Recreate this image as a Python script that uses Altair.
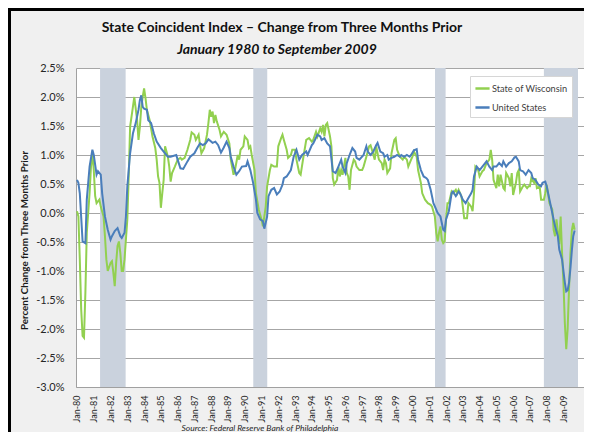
import altair as alt
import pandas as pd

# months since Jan-1980 and three-month % change
us_month = [0, 1, 2, 4, 6, 7, 9, 11, 12, 14, 15, 17, 18, 20, 22, 24, 25, 27, 29, 31, 32, 34, 35, 36, 38,
            40, 42, 44, 45, 46, 47, 48, 50, 51, 53, 55, 57, 60, 63, 65, 67, 71, 72, 74, 76, 79, 81, 84, 86, 88,
            90, 92, 94, 97, 99, 101, 103, 105, 107, 109, 110, 112, 114, 116, 118, 121, 122, 124, 126, 128, 129,
            131, 133, 134, 136, 137, 139, 141, 143, 145, 147, 148, 150, 153, 155, 157, 159, 161, 164, 165, 168,
            169, 172, 174, 175, 177, 179, 181, 183, 185, 187, 189, 190, 192, 193, 195, 197, 199, 200, 202, 205,
            207, 208, 210, 212, 214, 215, 217, 219, 220, 222, 223, 225, 227, 229, 231, 232, 234, 236, 238, 239,
            241, 243, 244, 246, 248, 250, 251, 253, 255, 257, 258, 260, 262, 263, 264, 266, 268, 269, 271, 273,
            274, 276, 278, 280, 282, 283, 284, 286, 288, 289, 291, 293, 295, 297, 298, 300, 302, 304, 305, 307,
            309, 311, 313, 314, 316, 317, 319, 321, 323, 325, 326, 328, 330, 332, 333, 335, 336, 338, 340, 342,
            344, 345, 347, 348, 349, 350, 351, 352, 353, 354, 355, 356]
us_value = [0.57, 0.52, 0.34, -0.49, -0.52, 0.23, 0.80, 1.09, 1.00, 0.66, 0.72, 0.66, 0.34, -0.06, -0.29, -0.46,
            -0.40, -0.31, -0.26, -0.40, -0.43, -0.34, -0.06, 0.46, 1.03,
            1.37, 1.55, 1.78, 1.95, 2.03, 1.83, 1.80, 1.78, 1.60, 1.55, 1.37, 1.23, 1.12, 1.03, 0.97, 0.97, 1.00,
            0.92, 0.77, 0.76, 0.89, 0.97, 1.03, 1.12, 1.20,
            1.17, 1.20, 1.27, 1.21, 1.23, 1.17, 1.04, 1.13, 1.23, 1.12, 0.97, 0.80, 0.66, 0.72, 0.80, 0.81, 0.89,
            0.74, 0.52, 0.23, 0.00,
            -0.11, -0.14, -0.27, -0.06, 0.29, 0.40, 0.43, 0.32, 0.37, 0.49, 0.60, 0.63, 0.74, 0.97, 1.09, 0.92,
            1.00, 1.06, 1.00, 1.17,
            1.20, 1.35, 1.32, 1.26, 1.29, 1.20, 1.15, 0.72, 0.69, 0.80, 0.92, 0.80, 0.69, 0.86, 1.00, 1.12, 1.06,
            0.95, 0.92, 1.00,
            1.15, 1.06, 1.00, 1.06, 1.17, 1.21, 1.06, 1.03, 0.97, 1.00, 0.92, 0.95, 0.97, 1.00, 0.97, 1.00, 0.97,
            1.00, 0.97, 1.00,
            1.08, 1.10, 0.92, 0.74, 0.63, 0.60, 0.57, 0.40, 0.17, 0.06, 0.00, -0.06, -0.29, -0.31, -0.11, 0.03,
            0.34, 0.37, 0.29, 0.37,
            0.34, 0.23, 0.17, 0.26, 0.34, 0.40, 0.63, 0.80, 0.74, 0.77, 0.83, 0.89, 0.80, 0.74, 0.80, 0.80, 0.86,
            0.81, 0.89, 0.80,
            0.86, 0.89, 0.96, 0.97, 0.89, 0.74, 0.72, 0.66, 0.74, 0.69, 0.60, 0.57, 0.49, 0.46, 0.52, 0.54, 0.46,
            0.23, 0.00, -0.23,
            -0.40, -0.63, -0.80, -1.00, -1.20, -1.35, -1.33, -1.20, -0.95, -0.65, -0.40, -0.30]

wi_month = [0, 1, 2, 3, 4, 5, 6, 7, 9, 10, 11, 12, 13, 14, 16, 17, 19, 20, 21, 22, 24, 25, 26, 27, 28, 29, 30,
            31, 32, 33, 34, 36, 37, 38, 40, 41, 43, 44, 45, 46, 47, 48, 49, 50, 52, 54, 56, 57, 58, 59, 60, 61,
            62, 63, 65, 66, 67, 68, 70, 72, 74, 75, 77, 79, 81, 82, 84, 85, 87, 88, 89, 91, 93, 94, 95, 96, 97,
            98, 99, 100, 102, 103, 105, 107, 109, 110, 112, 113, 115, 116, 117, 119, 120, 122, 123, 124, 125,
            127, 128, 130, 132, 133, 135, 136, 138, 139, 141, 143, 144, 146, 147, 148, 150, 151, 153, 154, 156,
            157, 159, 160, 162, 164, 166, 168, 169, 171, 172, 174, 175, 176, 177, 178, 179, 181, 182, 183, 184,
            186, 187, 188, 189, 190, 192, 193, 194, 195, 196, 198, 199, 200, 202, 204, 205, 207, 209, 210, 211,
            213, 214, 215, 216, 218, 219, 220, 221, 222, 224, 225, 227, 228, 229, 230, 231, 233, 234, 236, 237,
            239, 240, 241, 243, 244, 246, 247, 249, 251, 253, 254, 256, 257, 258, 259, 260, 261, 262, 263, 264,
            265, 266, 268, 269, 271, 272, 273, 275, 276, 277, 279, 280, 282, 283, 284, 285, 287, 288, 290, 291,
            293, 295, 296, 297, 298, 300, 301, 302, 303, 305, 306, 307, 309, 310, 311, 312, 314, 315, 316, 317,
            319, 320, 322, 323, 324, 325, 327, 328, 329, 331, 332, 334, 335, 336, 338, 340, 341, 342, 343, 345,
            346, 347, 348, 349, 350, 351, 352, 353, 354, 355, 356]
wi_value = [0.03, -0.06, -0.80, -1.66, -2.12, -2.15, -1.37, -0.34, 0.34, 0.80, 1.03, 0.74, 0.29, 0.17, 0.23,
            0.11, -0.06, -0.40, -0.80, -1.00, -0.86, -0.83, -1.03, -1.26, -0.86, -0.57, -0.49,
            -0.69, -1.00, -1.00, -0.80, -0.11, 0.63, 1.49, 1.83, 2.00, 1.60, 1.26, 1.49, 1.83, 2.00, 2.15, 1.98,
            1.78, 1.60, 1.32, 1.12, 0.92, 0.63, 0.52, 0.09, 0.34,
            0.57, 1.15, 0.97, 0.80, 0.54, 0.69, 0.80, 0.92, 0.95, 0.92, 0.95, 1.09, 1.26, 1.39, 1.35, 1.26, 1.35,
            1.17, 1.03, 1.12, 1.35, 1.55, 1.78, 1.66, 1.75,
            1.55, 1.69, 1.58, 1.43, 1.32, 1.40, 1.35, 1.20, 0.92, 0.66, 0.74, 1.00, 0.92, 1.09, 1.15, 1.32, 1.26,
            1.12, 1.15, 1.00,
            0.74, 0.34, 0.06, -0.11, -0.23, 0.11, 0.46, 0.74, 0.83, 0.80, 0.80, 1.15, 1.29, 1.35, 1.26, 1.09,
            0.95, 1.00, 1.09, 1.09,
            0.92, 0.69, 0.66, 0.97, 1.26, 1.29, 1.23, 1.26, 1.40, 1.32, 1.46, 1.40, 1.52, 1.32, 1.52, 1.55, 1.32,
            1.15, 0.60, 0.49,
            0.57, 0.80, 0.63, 0.74, 0.66, 0.95, 0.69, 0.63, 0.40, 0.74, 0.92, 0.89, 0.80, 0.74, 0.74, 0.80, 0.97,
            1.15, 1.17, 1.09,
            0.92, 1.15, 1.03, 0.92, 0.86, 0.74, 0.92, 0.86, 0.69, 0.77, 1.03, 1.26, 1.29, 1.09, 1.03, 0.97, 0.92,
            0.97, 0.92, 0.80,
            0.92, 0.97, 1.06, 0.97, 0.74, 0.52, 0.34, 0.23, 0.17, 0.14, 0.11, -0.06, -0.34, -0.49, -0.34, -0.23,
            -0.46, -0.52, -0.49, -0.11,
            0.17, 0.17, 0.37, 0.34, 0.40, 0.34, 0.40, 0.29, 0.11, -0.09, -0.09, 0.17, 0.11, 0.03, 0.34, 0.80, 0.74,
            0.63, 0.72, 0.74,
            0.86, 0.92, 1.09, 0.92, 0.57, 0.43, 0.66, 0.46, 0.66, 0.43, 0.40, 0.69, 0.60, 0.46, 0.69, 0.31, 0.52,
            0.69, 0.74, 0.37,
            0.46, 0.49, 0.43, 0.46, 0.46, 0.60, 0.52, 0.60, 0.43, 0.46, 0.23, 0.23, 0.34, 0.49, 0.17, 0.06, -0.29,
            -0.40, -0.11, -0.54,
            -0.06, -0.69, -1.20, -1.90, -2.35, -2.00, -1.30, -0.70, -0.30, -0.17, -0.29]

series_names = ["State of Wisconsin", "United States"]
series_colors = ["#92D050", "#4A7EBB"]

# January of each year, as months since Jan-1980
tick_months = [12 * k for k in range(30)]
y_ticks = [-3.0, -2.5, -2.0, -1.5, -1.0, -0.5, 0.0, 0.5, 1.0, 1.5, 2.0, 2.5]

# shaded recession spans, in months since Jan-1980 (as drawn)
recession_start = [16.5, 126.1, 256.1, 334.0]
recession_end = [34.8, 136.1, 263.7, 358.4]

title_text = "State Coincident Index – Change from Three Months Prior"
subtitle_text = "January 1980 to September 2009"
source_text = "Source:  Federal Reserve Bank of Philadelphia"
y_title = "Percent Change from Three Months Prior"

rows = []
for m, v in zip(wi_month, wi_value):
    rows.append({"m": m, "value": v, "series": series_names[0]})
for m, v in zip(us_month, us_value):
    rows.append({"m": m, "value": v, "series": series_names[1]})
df = pd.DataFrame(rows)
rec = pd.DataFrame({"m": recession_start, "m_end": recession_end})

FONT = "Lato"
PLOT_W, PLOT_H = 508, 319
TXT = "#262626"

x_scale = alt.Scale(domain=[-0.715, 362.7], nice=False, zero=False)

x_axis = alt.Axis(
    values=tick_months,
    labelExpr="'Jan-' + slice('0' + toString((80 + floor(datum.value / 12)) % 100), -2)",
    labelAngle=270, labelFontSize=9, labelFont=FONT,
    labelColor=TXT, labelPadding=8, ticks=False, grid=False, domainColor="#a0a0a0",
    title=None, labelOverlap=False, labelFlush=False,
)

y_axis = alt.Axis(
    values=y_ticks,
    labelExpr="(datum.value < 0 ? '-' : '') + format(abs(datum.value), '.1f') + '%'",
    labelFontSize=11, labelFont=FONT, labelColor=TXT, labelPadding=12, ticks=False,
    grid=True, gridColor="#a6a6a6", gridWidth=1, domainColor="#a0a0a0",
    title=y_title, titleFont=FONT, titleFontSize=9.8,
    titleFontWeight="bold", titleColor="#1a1a1a", titleAngle=270, titleX=-52, titleY=172,
    titleAlign="center", titleBaseline="middle",
)

bands = alt.Chart(rec).mark_rect(color="#cad2dd").encode(
    x=alt.X("m:Q", scale=x_scale, axis=x_axis),
    x2="m_end:Q",
)

lines = alt.Chart(df).mark_line(strokeWidth=2).encode(
    x=alt.X("m:Q", scale=x_scale, axis=x_axis),
    y=alt.Y("value:Q", scale=alt.Scale(domain=[-3, 2.5], nice=False), axis=y_axis),
    color=alt.Color(
        "series:N",
        scale=alt.Scale(domain=series_names, range=series_colors),
        legend=alt.Legend(
            orient="none", legendX=394, legendY=8, title=None, symbolType="stroke",
            symbolStrokeWidth=2.5, symbolSize=200, labelFontSize=9.2, labelFont=FONT,
            labelColor="#404040", fillColor="white", strokeColor="#d6d6d6", padding=4,
            rowPadding=5, labelOffset=1,
        ),
    ),
    order=alt.Order("m:Q"),
)

one = pd.DataFrame({"k": [0]})
frame_left = alt.Chart(one).mark_rule(color="black", strokeWidth=3).encode(
    x=alt.value(-66.5), y=alt.value(-60), y2=alt.value(364)
)
frame_top = alt.Chart(one).mark_rule(color="black", strokeWidth=3).encode(
    x=alt.value(-68), x2=alt.value(508), y=alt.value(-58.5)
)
title_mark = alt.Chart(one).mark_text(
    font=FONT, fontSize=14, fontWeight="bold", color="#111111", align="center", baseline="middle"
).encode(x=alt.value(206), y=alt.value(-40), text=alt.value(title_text))
subtitle_mark = alt.Chart(one).mark_text(
    font=FONT, fontSize=14, fontWeight="bold", fontStyle="italic", color="#111111",
    align="center", baseline="middle"
).encode(x=alt.value(201), y=alt.value(-18), text=alt.value(subtitle_text))
source_mark = alt.Chart(one).mark_text(
    font=FONT, fontSize=8.5, fontStyle="italic", color=TXT, align="center", baseline="middle"
).encode(x=alt.value(184), y=alt.value(360), text=alt.value(source_text))

chart = alt.layer(
    bands, lines, frame_left, frame_top, title_mark, subtitle_mark, source_mark
).properties(
    width=PLOT_W,
    height=PLOT_H,
    autosize=alt.AutoSizeParams(type="none"),
    padding={"left": 68, "top": 60, "right": 0, "bottom": 45},
    background="#f0f0f0",
).configure_view(fill="white", stroke="transparent")

chart.save("out.html", embed_options={"renderer": "svg", "actions": False})
